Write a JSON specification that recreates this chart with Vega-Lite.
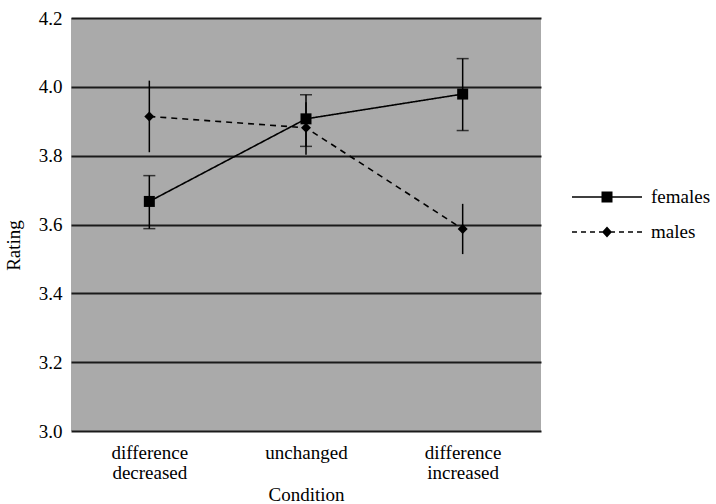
{
  "$schema": "https://vega.github.io/schema/vega-lite/v6.json",
  "autosize": "none",
  "width": 470,
  "height": 413,
  "padding": {"left": 71, "top": 18, "right": 175, "bottom": 73},
  "background": "white",
  "config": {
    "view": {"fill": "#aaaaaa", "stroke": null},
    "font": "Liberation Serif",
    "axis": {"labelColor": "black", "titleColor": "black", "titleFontWeight": "normal"},
    "legend": {"labelColor": "black"}
  },
  "data": {
    "values": [
      {"sex": "females", "condition": "difference decreased", "mean": 3.667, "lo": 3.588, "hi": 3.742},
      {"sex": "females", "condition": "unchanged", "mean": 3.907, "lo": 3.827, "hi": 3.977},
      {"sex": "females", "condition": "difference increased", "mean": 3.979, "lo": 3.873, "hi": 4.082},
      {"sex": "males", "condition": "difference decreased", "mean": 3.914, "lo": 3.81, "hi": 4.018},
      {"sex": "males", "condition": "unchanged", "mean": 3.881, "lo": 3.803, "hi": 3.955},
      {"sex": "males", "condition": "difference increased", "mean": 3.587, "lo": 3.514, "hi": 3.66}
    ]
  },
  "encoding": {
    "x": {
      "field": "condition",
      "type": "nominal",
      "sort": ["difference decreased", "unchanged", "difference increased"],
      "scale": {"type": "point", "padding": 0.5},
      "axis": {
        "title": "Condition",
        "titleFontSize": 19,
        "titleY": 69,
        "titleBaseline": "alphabetic",
        "labelAngle": 0,
        "labelFontSize": 19,
        "labelLineHeight": 20,
        "labelBaseline": "top",
        "labelPadding": 12,
        "labelExpr": "split(datum.label, ' ')",
        "ticks": false,
        "tickSize": 0,
        "domain": false,
        "grid": false
      }
    }
  },
  "layer": [
    {
      "mark": {"type": "rule", "color": "black", "strokeWidth": 1.5},
      "encoding": {
        "y": {
          "field": "lo",
          "type": "quantitative",
          "scale": {"domain": [3.0, 4.2], "nice": false, "zero": false},
          "axis": {
            "title": "Rating",
            "titleFontSize": 19,
            "titleAngle": -90,
            "titleX": -58,
            "titleY": 227,
            "titleAlign": "center",
            "titleBaseline": "middle",
            "values": [3.0, 3.2, 3.4, 3.6, 3.8, 4.0, 4.2],
            "format": ".1f",
            "labelFontSize": 19,
            "labelPadding": 9,
            "ticks": false,
            "tickSize": 0,
            "domain": false,
            "grid": true,
            "gridColor": "#1a1a1a",
            "gridWidth": 2,
            "gridOpacity": 1
          }
        },
        "y2": {"field": "hi"}
      }
    },
    {
      "transform": [{"filter": "datum.sex === 'females'"}],
      "mark": {"type": "tick", "color": "black", "thickness": 1.5, "size": 12, "orient": "horizontal"},
      "encoding": {"y": {"field": "lo", "type": "quantitative"}}
    },
    {
      "transform": [{"filter": "datum.sex === 'females'"}],
      "mark": {"type": "tick", "color": "black", "thickness": 1.5, "size": 12, "orient": "horizontal"},
      "encoding": {"y": {"field": "hi", "type": "quantitative"}}
    },
    {
      "mark": {"type": "line", "color": "black", "strokeWidth": 1.6},
      "encoding": {
        "y": {"field": "mean", "type": "quantitative"},
        "detail": {"field": "sex"},
        "strokeDash": {
          "field": "sex",
          "type": "nominal",
          "scale": {"domain": ["females", "males"], "range": [[1, 0], [6, 5]]},
          "legend": {
            "title": null,
            "orient": "none",
            "legendX": 526,
            "legendY": 169,
            "symbolSize": 400,
            "symbolFillColor": "black",
            "symbolStrokeColor": "black",
            "symbolStrokeWidth": 0,
            "symbolOpacity": 1,
            "labelFontSize": 19,
            "labelOffset": 34,
            "rowPadding": 15,
            "padding": 0,
            "encode": {
              "symbols": {
                "update": {
                  "shape": {"signal": "datum.value === 'females' ? 'M-3.5,-0.075L3.5,-0.075L3.5,0.075L-3.5,0.075Z M-0.55,-0.55L0.55,-0.55L0.55,0.55L-0.55,0.55Z' : 'M-3.5,-0.075L-3,-0.075L-3,0.075L-3.5,0.075Z M-2.6,-0.075L-2.1,-0.075L-2.1,0.075L-2.6,0.075Z M-1.7,-0.075L-1.2,-0.075L-1.2,0.075L-1.7,0.075Z M-0.8,-0.075L-0.45,-0.075L-0.45,0.075L-0.8,0.075Z M0.45,-0.075L0.8,-0.075L0.8,0.075L0.45,0.075Z M1.2,-0.075L1.7,-0.075L1.7,0.075L1.2,0.075Z M2.1,-0.075L2.6,-0.075L2.6,0.075L2.1,0.075Z M3,-0.075L3.5,-0.075L3.5,0.075L3,0.075Z M0,-0.55L0.5,0L0,0.55L-0.5,0Z'"},
                  "fill": {"value": "black"},
                  "strokeDash": {"value": [1, 0]}
                }
              }
            }
          }
        }
      }
    },
    {
      "transform": [{"filter": "datum.sex === 'females'"}],
      "mark": {"type": "point", "filled": true, "color": "black", "opacity": 1, "shape": "square", "size": 121},
      "encoding": {"y": {"field": "mean", "type": "quantitative"}}
    },
    {
      "transform": [{"filter": "datum.sex === 'males'"}],
      "mark": {"type": "point", "filled": true, "color": "black", "opacity": 1, "shape": "diamond", "size": 100},
      "encoding": {"y": {"field": "mean", "type": "quantitative"}}
    }
  ]
}
